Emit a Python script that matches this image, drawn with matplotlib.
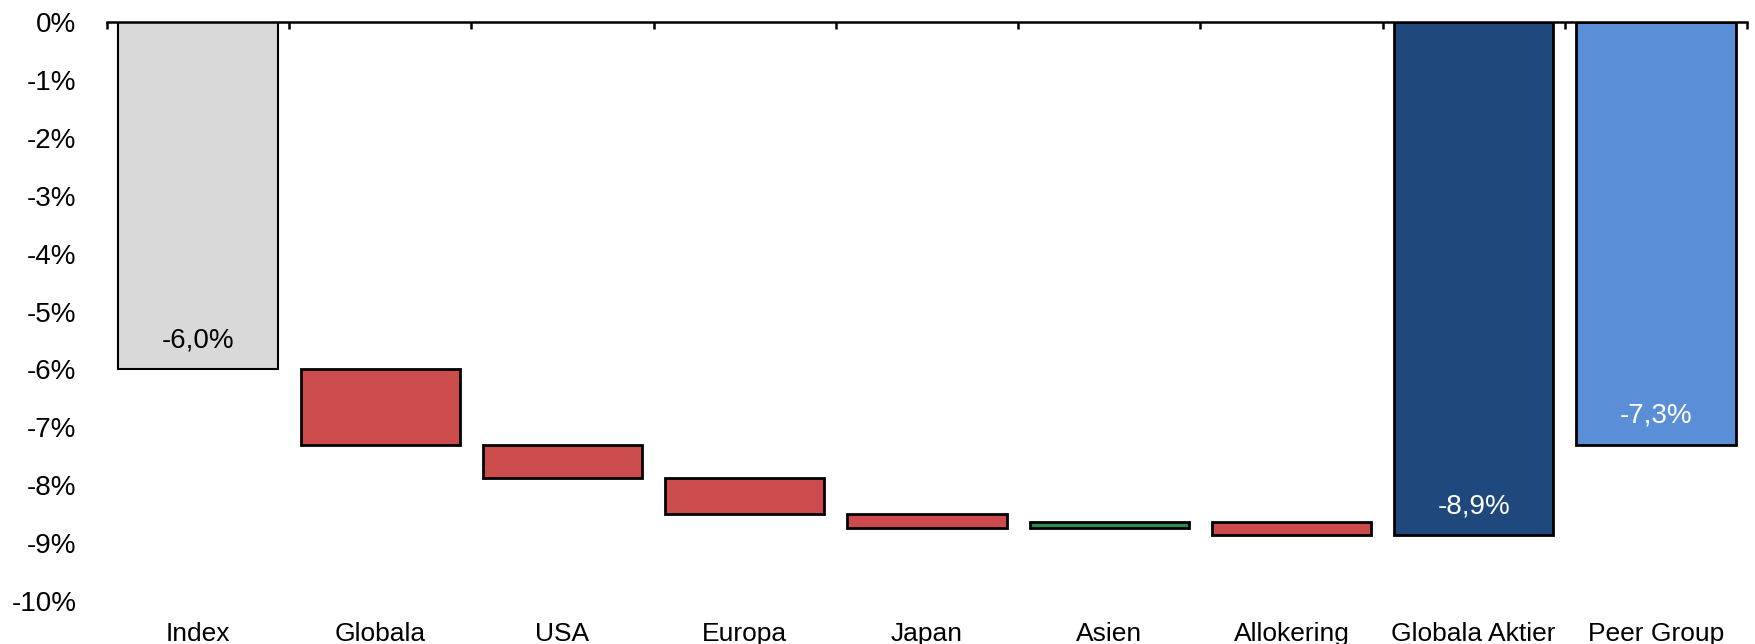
import matplotlib
matplotlib.use("Agg")
import matplotlib.pyplot as plt
from matplotlib import font_manager
import numpy as np

categories = ["Index", "Globala", "USA", "Europa", "Japan", "Asien", "Allokering",
              "Globala Aktier", "Peer Group"]
index_return = -6.0
contributions = [-1.3, -0.57, -0.63, -0.24, 0.10, -0.22]
peer_return = -7.3
yticks = np.arange(-10, 1, 1)

plt.rcParams["font.family"] = ["Liberation Sans", "DejaVu Sans"]
installed = {f.name for f in font_manager.fontManager.ttflist}
if "Liberation Sans Narrow" in installed:
    xfont, xsize = "Liberation Sans Narrow", 22
else:
    xfont, xsize = "Liberation Sans", 19


def pct(v):
    return f"{v:.1f}%".replace(".", ",")


fig = plt.figure(figsize=(17.55, 6.44), dpi=100)
ax = fig.add_axes([107 / 1755, 1 - 601 / 644, (1747 - 107) / 1755, (601 - 22) / 644])

x = np.arange(len(categories))
width = 0.875
edge = "#000000"

# index bar
ax.bar(x[0], index_return, width, color="#D9D9D9", edgecolor=edge, linewidth=1.5)

# waterfall contributions
level = index_return
for i, c in enumerate(contributions, start=1):
    color = "#2E8B57" if c > 0 else "#CC4B4C"
    ax.bar(x[i], c, width, bottom=level, color=color, edgecolor=edge, linewidth=2.0)
    level += c
fund_total = level

ax.bar(x[7], fund_total, width, color="#1F497D", edgecolor=edge, linewidth=2.0)
ax.bar(x[8], peer_return, width, color="#5A8FD8", edgecolor=edge, linewidth=2.0)

ax.text(x[0], index_return + 0.5, pct(index_return), ha="center", va="center",
        fontsize=20, color="black")
ax.text(x[7], fund_total + 0.5, pct(fund_total), ha="center", va="center",
        fontsize=20, color="white")
ax.text(x[8], peer_return + 0.5, pct(peer_return), ha="center", va="center",
        fontsize=20, color="white")

ax.set_xlim(-0.5, len(categories) - 0.5)
ax.set_ylim(-10, 0)
ax.set_yticks(yticks)
ax.set_yticklabels([f"{v}%" for v in yticks], fontsize=20)
ax.set_xticks(x)
ax.set_xticklabels(categories, fontsize=xsize, family=xfont)
ax.tick_params(axis="x", length=0, pad=15)
ax.tick_params(axis="y", length=0, pad=22)

for s in ["left", "right", "bottom"]:
    ax.spines[s].set_visible(False)
ax.spines["top"].set_linewidth(1.8)
ax.set_xticks(np.arange(-0.5, len(categories), 1), minor=True)
ax.tick_params(axis="x", which="minor", top=True, bottom=False, direction="in",
               length=5, width=1.8)

fig.savefig("out.png", dpi=100)
